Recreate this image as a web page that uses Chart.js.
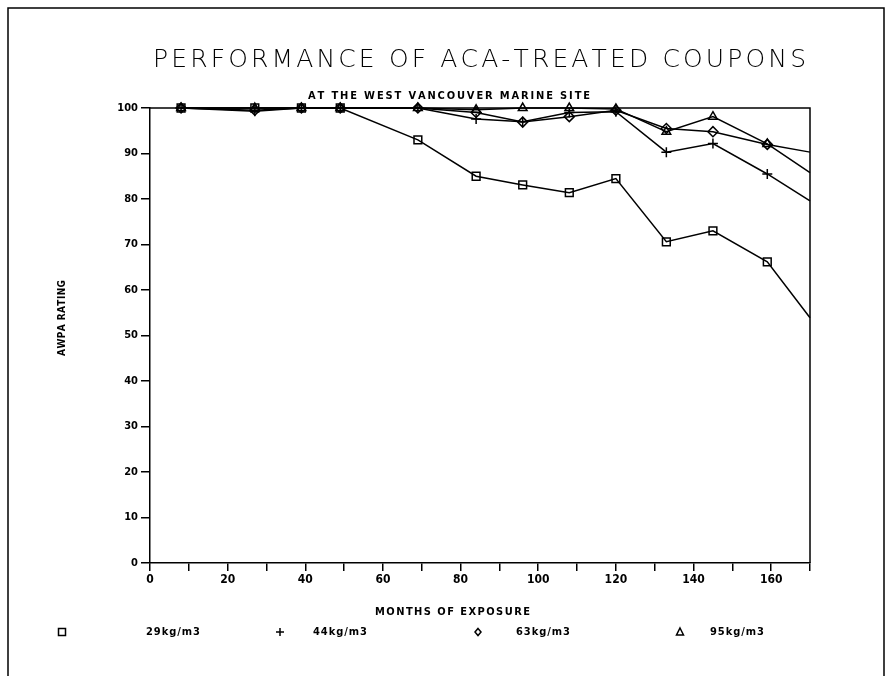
<!DOCTYPE html>
<html>
<head>
<meta charset="utf-8">
<title>Performance of ACA-treated coupons</title>
<script src="https://cdn.jsdelivr.net/npm/chart.js@4.4.0/dist/chart.umd.min.js"></script>
<style>
    html, body { margin: 0; padding: 0; background: #fff; }
    #wrap { width: 893px; height: 676px; }
</style>
</head>
<body>
<div id="wrap"><canvas id="awpaChart" width="893" height="676"></canvas></div>
<script>
// Months of exposure at each inspection
const months = [8, 27, 39, 49, 69, 84, 96, 108, 120, 133, 145, 159, 170];

// AWPA ratings for each ACA retention
const rating29 = [100, 100, 100, 100, 93, 85, 83.1, 81.4, 84.5, 70.6, 73, 66.2, 53.9];
const rating44 = [100, 99.3, 100, 100, 100, 97.6, 97, 99, 99.2, 90.3, 92.2, 85.5, 79.6];
const rating63 = [100, 99.5, 100, 100, 100, 99, 96.9, 98.1, 99.5, 95.5, 94.8, 92, 90.3];
const rating95 = [100, 100, 100, 100, 100, 99.6, 100, 100, 99.8, 94.8, 98.1, 92.1, 85.8];

const seriesLabels = ['29kg/m3', '44kg/m3', '63kg/m3', '95kg/m3'];
const seriesMarkers = ['rect', 'cross', 'rectRot', 'triangle'];

// Tick labels
const xTickLabels = [0, 20, 40, 60, 80, 100, 120, 140, 160];
const yTickLabels = [0, 10, 20, 30, 40, 50, 60, 70, 80, 90, 100];

const chartTitle = 'PERFORMANCE OF ACA-TREATED COUPONS';
const chartSubtitle = 'AT THE WEST VANCOUVER MARINE SITE';
const xTitle = 'MONTHS OF EXPOSURE';
const yTitle = 'AWPA RATING';

const condensed = "'DejaVu Sans Condensed', 'Liberation Sans Narrow', 'DejaVu Sans', sans-serif";

// Draw text stretched between two x positions (plotter style lettering)
function spacedText(ctx, text, left, right, y) {
    const chars = [...text];
    const widths = chars.map(c => ctx.measureText(c).width);
    const total = widths.reduce((a, b) => a + b, 0);
    const gap = (right - left - total) / (chars.length - 1);
    let x = left;
    chars.forEach((c, i) => {
        ctx.fillText(c, x, y);
        x += widths[i] + gap;
    });
}

// Marker for the legend row
function legendMarker(ctx, style, x, y) {
    ctx.beginPath();
    if (style === 'rect') {
        ctx.rect(x - 3.5, y - 3.5, 7, 7);
    } else if (style === 'cross') {
        ctx.moveTo(x - 4, y); ctx.lineTo(x + 4, y);
        ctx.moveTo(x, y - 4); ctx.lineTo(x, y + 4);
    } else if (style === 'rectRot') {
        ctx.moveTo(x, y - 3.5); ctx.lineTo(x + 3, y);
        ctx.lineTo(x, y + 3.5); ctx.lineTo(x - 3, y); ctx.closePath();
    } else {
        ctx.moveTo(x, y - 4); ctx.lineTo(x + 3.5, y + 3);
        ctx.lineTo(x - 3.5, y + 3); ctx.closePath();
    }
    ctx.stroke();
}

const plotterText = {
    id: 'plotterText',
    afterDraw(chart) {
        const ctx = chart.ctx;
        const area = chart.chartArea;
        ctx.save();
        ctx.strokeStyle = '#000';
        ctx.fillStyle = '#000';
        ctx.lineWidth = 1.5;

        // page frame
        ctx.beginPath();
        ctx.moveTo(8, 676);
        ctx.lineTo(8, 8);
        ctx.lineTo(884, 8);
        ctx.lineTo(884, 676);
        ctx.stroke();

        // top and right sides of the plot box
        ctx.beginPath();
        ctx.moveTo(area.left, area.top);
        ctx.lineTo(area.right, area.top);
        ctx.lineTo(area.right, area.bottom);
        ctx.stroke();

        // titles
        ctx.textBaseline = 'middle';
        ctx.textAlign = 'left';
        ctx.font = "200 25px 'DejaVu Sans', 'Liberation Sans', sans-serif";
        spacedText(ctx, chartTitle, 153, 806, 60);

        ctx.font = 'bold 11px ' + condensed;
        spacedText(ctx, chartSubtitle, 308, 590, 96);
        spacedText(ctx, xTitle, 375, 530, 612);

        ctx.save();
        ctx.translate(62, 318);
        ctx.rotate(-Math.PI / 2);
        ctx.font = 'bold 10px ' + condensed;
        spacedText(ctx, yTitle, -38, 38, 0);
        ctx.restore();

        // legend row
        ctx.font = 'bold 11px ' + condensed;
        const legendX = [62, 280, 478, 680];
        const labelGap = [84, 33, 38, 30];
        chart.data.datasets.forEach((ds, i) => {
            legendMarker(ctx, ds.pointStyle, legendX[i], 632);
            spacedText(ctx, ds.label, legendX[i] + labelGap[i], legendX[i] + labelGap[i] + 54, 632);
        });
        ctx.restore();
    }
};

function makeDataset(label, values, marker) {
    return {
        label: label,
        data: months.map((m, i) => ({ x: m, y: values[i] })),
        borderColor: '#000',
        borderWidth: 1.5,
        pointStyle: marker,
        pointBorderColor: '#000',
        pointBackgroundColor: 'rgba(0,0,0,0)',
        pointBorderWidth: 1.5,
        // last reading runs off the right edge of the plot, no marker shown
        pointRadius: ctx => ctx.dataIndex === months.length - 1 ? 0 : (marker === 'rect' ? 5.5 : 5),
        tension: 0,
        clip: false
    };
}

new Chart(document.getElementById('awpaChart'), {
    type: 'line',
    data: {
        datasets: [
            makeDataset(seriesLabels[0], rating29, seriesMarkers[0]),
            makeDataset(seriesLabels[1], rating44, seriesMarkers[1]),
            makeDataset(seriesLabels[2], rating63, seriesMarkers[2]),
            makeDataset(seriesLabels[3], rating95, seriesMarkers[3])
        ]
    },
    options: {
        responsive: false,
        animation: false,
        layout: {
            padding: { left: 0, right: 83, top: 108, bottom: 83 }
        },
        plugins: {
            legend: { display: false },
            title: { display: false },
            tooltip: { enabled: false }
        },
        scales: {
            x: {
                type: 'linear',
                min: 0,
                max: 170,
                afterFit: scale => { scale.height = 30; },
                ticks: {
                    stepSize: 10,
                    autoSkip: false,
                    maxRotation: 0,
                    padding: 2,
                    color: '#000',
                    font: { family: condensed, size: 12, weight: 'bold' },
                    callback: v => xTickLabels.includes(v) ? String(v) : ''
                },
                grid: {
                    drawOnChartArea: false,
                    drawTicks: true,
                    tickLength: 8,
                    color: '#000',
                    lineWidth: 1.5
                },
                border: { display: true, color: '#000', width: 1.5 }
            },
            y: {
                min: 0,
                max: 100,
                afterFit: scale => { scale.width = 150; },
                ticks: {
                    stepSize: 10,
                    autoSkip: false,
                    padding: 3,
                    color: '#000',
                    font: { family: condensed, size: 11, weight: 'bold' },
                    callback: v => yTickLabels.includes(v) ? String(v) : ''
                },
                grid: {
                    drawOnChartArea: false,
                    drawTicks: true,
                    tickLength: 9,
                    color: '#000',
                    lineWidth: 1.5
                },
                border: { display: true, color: '#000', width: 1.5 }
            }
        }
    },
    plugins: [plotterText]
});
</script>
</body>
</html>
